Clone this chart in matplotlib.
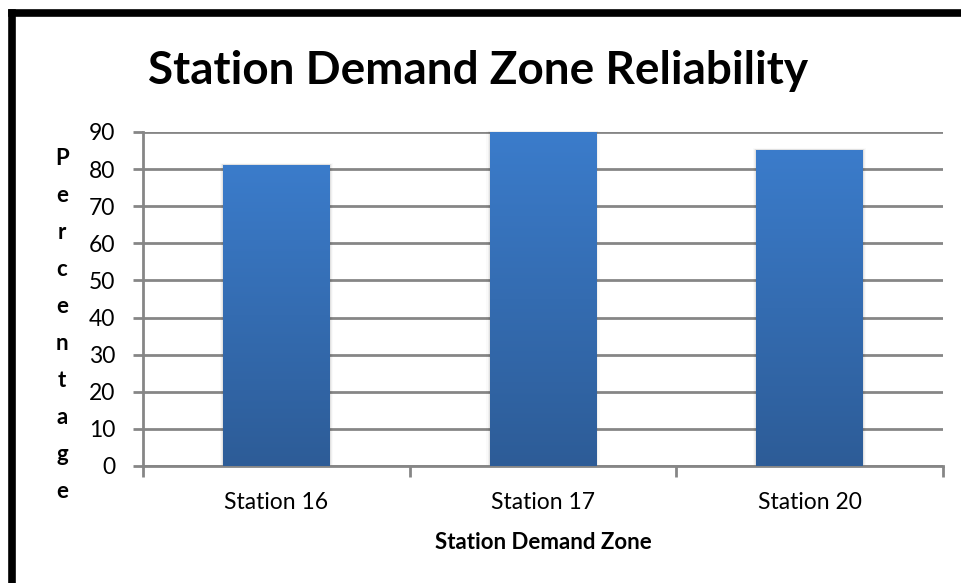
import matplotlib
matplotlib.use("Agg")
import matplotlib.pyplot as plt
import numpy as np
from matplotlib.colors import LinearSegmentedColormap
from matplotlib.patches import Rectangle
from matplotlib.lines import Line2D

plt.rcParams['font.family'] = ['Lato', 'DejaVu Sans']

categories = ["Station 16", "Station 17", "Station 20"]
reliability = [81.2, 90.0, 85.2]
y_ticks = [0, 10, 20, 30, 40, 50, 60, 70, 80, 90]

W, H = 961, 583
fig = plt.figure(figsize=(W / 100, H / 100), dpi=100)
fig.patch.set_facecolor("white")

# axes box in pixel terms
left, right, top, bottom = 143, 943, 132, 466
ax = fig.add_axes([left / W, 1 - bottom / H, (right - left) / W, (bottom - top) / H])

grid_color = "#868686"
ax.set_xlim(-0.5, len(categories) - 0.5)
ax.set_ylim(0, 90)
ax.set_yticks(y_ticks)
ax.yaxis.grid(True, color=grid_color, linewidth=2.0)
ax.set_axisbelow(True)
for side in ["top", "right"]:
    ax.spines[side].set_visible(False)
ax.spines["left"].set_color(grid_color)
ax.spines["left"].set_linewidth(2.0)
ax.spines["bottom"].set_color(grid_color)
ax.spines["bottom"].set_linewidth(2.0)

# category boundary ticks on x
ax.set_xticks(np.arange(-0.5, len(categories), 1.0))
ax.set_xticklabels([])
ax.set_xticks(np.arange(len(categories)), minor=True)
ax.set_xticklabels(categories, minor=True, fontsize=16.5)
ax.tick_params(axis="x", which="major", direction="out", length=8, width=2, color=grid_color)
ax.tick_params(axis="x", which="minor", length=0, pad=18.5)
ax.tick_params(axis="y", direction="out", length=7, width=2, color=grid_color,
               labelsize=16.5, pad=13)

# gradient-filled bars
cmap = LinearSegmentedColormap.from_list("bar", ["#2D5C97", "#3B7CCB"])
grad = np.linspace(0, 1, 256).reshape(-1, 1)
bar_w = 0.4
bars = ax.bar(categories, reliability, width=bar_w, color="none", edgecolor="none", zorder=3)
for b in bars:
    x0, w, h = b.get_x(), b.get_width(), b.get_height()
    # soft shadow
    for k, a in enumerate([0.06, 0.04, 0.02]):
        d = 0.004 * (k + 1)
        ax.add_patch(Rectangle((x0 - d, -0.3), w + 2 * d, h + 0.3 + d * 30,
                               facecolor="black", alpha=a, edgecolor="none",
                               zorder=2.5, clip_on=False))
    im = ax.imshow(grad, cmap=cmap, aspect="auto", origin="lower",
                   extent=(x0, x0 + w, 0, h), zorder=3, interpolation="bicubic")
    im.set_clip_path(b)
ax.set_xlim(-0.5, len(categories) - 0.5)
ax.set_ylim(0, 90)

ax.set_xlabel("Station Demand Zone", fontsize=16, fontweight="bold", labelpad=14)

# title
fig.text(478 / W, 1 - 71 / H, "Station Demand Zone Reliability", ha="center", va="center",
         fontsize=33, fontweight="bold")

# stacked vertical y-axis label
ylabel = "Percentage"
fig.text(62 / W, 1 - 325 / H, "\n".join(ylabel), ha="center", va="center",
         fontsize=16, fontweight="bold", linespacing=1.94)

# frame lines along the top and left edges
fig.add_artist(Line2D([12 / W, 1], [1 - 13 / H, 1 - 13 / H], color="black", linewidth=5.5,
                      solid_capstyle="projecting"))
fig.add_artist(Line2D([12 / W, 12 / W], [1 - 13 / H, 0], color="black", linewidth=5.5,
                      solid_capstyle="projecting"))

fig.savefig("out.png", dpi=100, facecolor="white")
